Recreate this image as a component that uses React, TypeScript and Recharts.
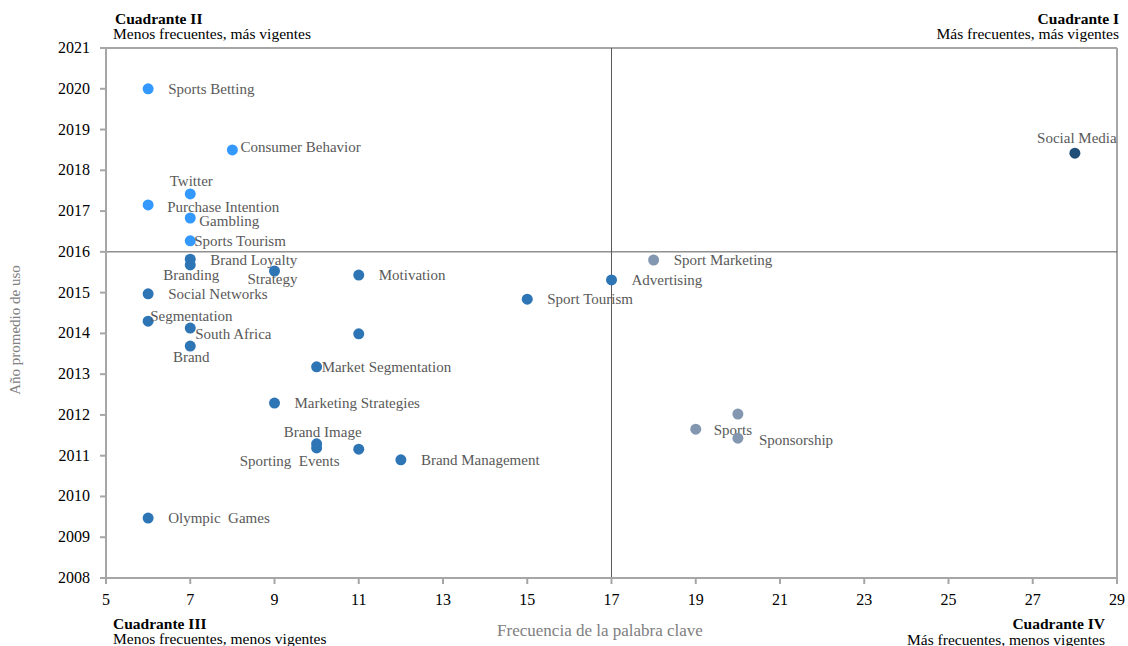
import { ScatterChart, Scatter, XAxis, YAxis, ReferenceLine } from 'recharts';

interface Punto {
  name: string;
  freq: number;
  year: number;
}

// Cuadrante II: menos frecuentes, más vigentes
const recientes: Punto[] = [
  { name: 'Sports Betting', freq: 6, year: 2020.0 },
  { name: 'Consumer Behavior', freq: 8, year: 2018.5 },
  { name: 'Twitter', freq: 7, year: 2017.42 },
  { name: 'Purchase Intention', freq: 6, year: 2017.15 },
  { name: 'Gambling', freq: 7, year: 2016.83 },
  { name: 'Sports Tourism', freq: 7, year: 2016.27 },
];

// Cuadrante III: menos frecuentes, menos vigentes
const antiguos: Punto[] = [
  { name: 'Brand Loyalty', freq: 7, year: 2015.82 },
  { name: 'Branding', freq: 7, year: 2015.68 },
  { name: 'Strategy', freq: 9, year: 2015.53 },
  { name: 'Motivation', freq: 11, year: 2015.43 },
  { name: 'Social Networks', freq: 6, year: 2014.97 },
  { name: 'Segmentation', freq: 6, year: 2014.3 },
  { name: 'South Africa', freq: 7, year: 2014.13 },
  { name: '', freq: 11, year: 2013.99 },
  { name: 'Brand', freq: 7, year: 2013.69 },
  { name: 'Market Segmentation', freq: 10, year: 2013.18 },
  { name: 'Marketing Strategies', freq: 9, year: 2012.29 },
  { name: 'Brand Image', freq: 10, year: 2011.29 },
  { name: 'Sporting  Events', freq: 10, year: 2011.19 },
  { name: '', freq: 11, year: 2011.16 },
  { name: 'Brand Management', freq: 12, year: 2010.9 },
  { name: 'Olympic  Games', freq: 6, year: 2009.47 },
  { name: 'Sport Tourism', freq: 15, year: 2014.84 },
  { name: 'Advertising', freq: 17, year: 2015.31 },
];

// Cuadrante IV: más frecuentes, menos vigentes
const frecuentes: Punto[] = [
  { name: 'Sport Marketing', freq: 18, year: 2015.8 },
  { name: 'Sports', freq: 19, year: 2011.65 },
  { name: '', freq: 20, year: 2012.02 },
  { name: 'Sponsorship', freq: 20, year: 2011.43 },
];

// Cuadrante I: más frecuentes, más vigentes
const destacados: Punto[] = [
  { name: 'Social Media', freq: 28, year: 2018.42 },
];

const xTicks = [5, 7, 9, 11, 13, 15, 17, 19, 21, 23, 25, 27, 29];
const yTicks = [2008, 2009, 2010, 2011, 2012, 2013, 2014, 2015, 2016, 2017, 2018, 2019, 2020, 2021];

// posición de cada etiqueta respecto a su punto
const etiquetas: Record<string, { dx: number; dy: number; anchor?: string }> = {
  'Consumer Behavior': { dx: 8, dy: -3 },
  'Twitter': { dx: 1, dy: -13, anchor: 'middle' },
  'Purchase Intention': { dx: 19, dy: 2 },
  'Gambling': { dx: 9, dy: 3 },
  'Sports Tourism': { dx: 4, dy: 0 },
  'Brand Loyalty': { dx: 20, dy: 1 },
  'Branding': { dx: 1, dy: 10, anchor: 'middle' },
  'Strategy': { dx: -2, dy: 8, anchor: 'middle' },
  'Segmentation': { dx: 2, dy: -5 },
  'South Africa': { dx: 5, dy: 6 },
  'Brand': { dx: 1, dy: 11, anchor: 'middle' },
  'Market Segmentation': { dx: 5, dy: 0 },
  'Brand Image': { dx: 6, dy: -12, anchor: 'middle' },
  'Sporting  Events': { dx: -27, dy: 13, anchor: 'middle' },
  'Sponsorship': { dx: 21, dy: 2 },
  'Sports': { dx: 18, dy: 1 },
  'Social Media': { dx: 2, dy: -15, anchor: 'middle' },
};

const serif = "'Liberation Serif', 'Times New Roman', serif";

const punto = (color: string) => (props: any) => {
  const { cx, cy, payload } = props;
  const pos = etiquetas[payload.name] ?? { dx: 20, dy: 0 };
  return (
    <g>
      <circle cx={cx} cy={cy} r={5.5} fill={color} />
      {payload.name && (
        <text
          x={cx + pos.dx}
          y={cy + pos.dy + 5}
          textAnchor={pos.anchor ?? 'start'}
          fontSize={15}
          fill="#595959"
          style={{ whiteSpace: 'pre', fontFamily: serif }}
        >
          {payload.name}
        </text>
      )}
    </g>
  );
};

const tickX = (props: any) => (
  <text x={props.x} y={props.y + 19} textAnchor="middle" fontSize={16} fill="#000" style={{ fontFamily: serif }}>
    {props.payload.value}
  </text>
);

const tickY = (props: any) => (
  <text x={props.x - 8} y={props.y + 5} textAnchor="end" fontSize={16} fill="#000" style={{ fontFamily: serif }}>
    {props.payload.value}
  </text>
);

export default function App() {
  return (
    <div style={{ width: 1128, height: 646, boxSizing: 'border-box', padding: '8px 0 0 8px', fontFamily: serif }}>
      <style>{'html, body { margin: 0; overflow: hidden; }'}</style>
      <div style={{ position: 'relative', width: 1120, height: 638 }}>
        <ScatterChart
          width={1120}
          height={638}
          margin={{ top: 40, right: 11, bottom: 38, left: 38 }}
          style={{ overflow: 'visible' }}
        >
          <XAxis
            type="number"
            dataKey="freq"
            domain={[5, 29]}
            ticks={xTicks}
            height={30}
            stroke="#a6a6a6"
            strokeWidth={2}
            tickSize={6}
            tick={tickX}
          />
          <YAxis
            type="number"
            dataKey="year"
            domain={[2008, 2021]}
            ticks={yTicks}
            width={60}
            stroke="#a6a6a6"
            strokeWidth={2}
            tickSize={6}
            tick={tickY}
          />
          <ReferenceLine y={2021} stroke="#a6a6a6" strokeWidth={2} />
          <ReferenceLine x={29} stroke="#a6a6a6" strokeWidth={2} />
          <ReferenceLine x={17} stroke="#595959" strokeWidth={1} />
          <ReferenceLine y={2016} stroke="#595959" strokeWidth={1} />
          <Scatter data={antiguos} shape={punto('#2e75b6')} isAnimationActive={false} />
          <Scatter data={recientes} shape={punto('#3399ff')} isAnimationActive={false} />
          <Scatter data={frecuentes} shape={punto('#8497b0')} isAnimationActive={false} />
          <Scatter data={destacados} shape={punto('#1f4e79')} isAnimationActive={false} />
        </ScatterChart>
        <svg width={1120} height={638} style={{ position: 'absolute', left: 0, top: 0, pointerEvents: 'none', overflow: 'visible', fontFamily: serif }}>
          <text x={107} y={16} fontSize={15.5} fontWeight="bold" fill="#000">Cuadrante II</text>
          <text x={105} y={31} fontSize={15.5} fill="#000">Menos frecuentes, más vigentes</text>
          <text x={1111} y={16} fontSize={15.5} fontWeight="bold" fill="#000" textAnchor="end">Cuadrante I</text>
          <text x={1111} y={31} fontSize={15.5} fill="#000" textAnchor="end">Más frecuentes, más vigentes</text>
          <text x={105} y={621} fontSize={15.5} fontWeight="bold" fill="#000">Cuadrante III</text>
          <text x={105} y={636} fontSize={15.5} fill="#000">Menos frecuentes, menos vigentes</text>
          <text x={1097} y={621} fontSize={15.5} fontWeight="bold" fill="#000" textAnchor="end">Cuadrante IV</text>
          <text x={1097} y={637} fontSize={15.5} fill="#000" textAnchor="end">Más frecuentes, menos vigentes</text>
          <text x={592} y={628} fontSize={17} fill="#808080" textAnchor="middle">Frecuencia de la palabra clave</text>
          <text x={12} y={322} fontSize={15} fill="#808080" textAnchor="middle" transform="rotate(-90 12 322)">Año promedio de uso</text>
        </svg>
      </div>
    </div>
  );
}
